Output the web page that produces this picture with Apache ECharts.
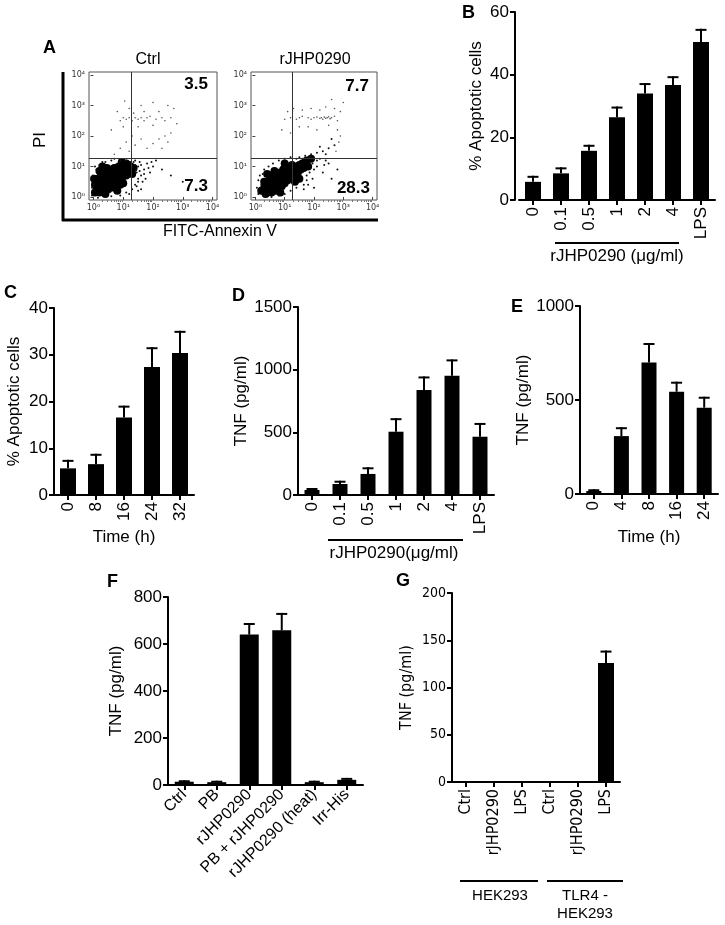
<!DOCTYPE html>
<html><head><meta charset="utf-8">
<script src="https://cdn.jsdelivr.net/npm/echarts/dist/echarts.min.js"></script>
<style>html,body{margin:0;padding:0;background:#fff}#c{width:725px;height:925px}</style>
</head><body><div id="c"></div>
<script>
const FONT = '"Liberation Sans", Arial, Helvetica, sans-serif';
const NARROW = '"Liberation Sans Narrow", "DejaVu Sans Condensed", "Liberation Sans", Arial, sans-serif';

// ---------- Panel A (flow cytometry, log10 units) ----------
const logTicks = [0, 1, 2, 3, 4];
const logLabels = ['10⁰', '10¹', '10²', '10³', '10⁴'];
const gateX = 1.27, gateY = 1.28;
const ctrlQuad = ['3.5', '7.3'];
const rjQuad = ['7.7', '28.3'];
const ctrlDense = [[0.3,0.4],[0.4,0.5],[0.5,0.6],[0.6,0.7],[0.7,0.8],[0.35,0.6],[0.45,0.3],[0.55,0.45],[0.65,0.55],[0.75,0.65],[0.85,0.75],[0.9,0.9],[0.2,0.3],[0.25,0.5],[0.15,0.35],[0.3,0.2],[0.5,0.25],[0.6,0.35],[0.8,0.5],[0.95,0.6],[1.0,0.8],[0.7,0.95],[0.5,0.8],[0.4,0.7],[0.2,0.15],[0.1,0.2],[1.05,0.95],[0.85,1.0],[0.6,0.9],[0.35,0.85],[0.1,0.5],[0.25,0.7],[0.45,0.95],[1.1,0.7],[0.9,0.4],[0.4,0.1],[0.15,0.6],[0.7,0.3],[1.15,1.05],[1.2,0.9],[1.25,1.0],[1.3,0.75],[1.1,1.1],[0.95,1.15],[1.35,0.95],[0.05,0.15],[0.05,0.4],[0.02,0.6],[0.3,1.0],[0.2,0.85],[1.0,0.45],[0.8,0.2]];
const ctrlSparse = [[-0.05,0.05],[0.0,0.4],[-0.02,0.7],[0.1,0.9],[0.2,1.05],[0.4,1.15],[0.6,1.2],[0.9,1.2],[1.1,1.2],[1.25,1.15],[1.4,1.05],[1.45,0.8],[1.5,0.6],[1.4,0.4],[1.3,0.25],[1.1,0.15],[0.9,0.05],[0.6,0.02],[0.4,0.0],[0.15,-0.03],[1.5,1.0],[1.55,0.85],[1.6,0.7],[1.6,1.05],[1.7,0.9],[1.8,1.1],[1.65,0.5],[1.9,0.8],[2.0,1.0],[1.45,0.35],[1.6,0.25],[1.75,0.6],[1.4,1.2],[1.55,1.15],[2.1,1.2],[2.3,0.9],[2.6,0.7],[3.0,0.5],[1.35,1.15],[1.5,0.5],[1.42,0.9],[1.7,0.75],[0.05,1.0],[-0.05,0.3],[1.2,0.1],[1.85,0.95],[1.95,1.15],[1.5,0.2],[0.7,1.25],[0.3,1.15]];
const ctrlUpper = [[0.7,1.4],[0.9,1.6],[1.1,1.8],[1.2,1.5],[1.4,1.7],[1.3,2.0],[1.6,1.9],[1.8,1.6],[2.0,1.75],[2.2,1.9],[2.4,2.0],[2.5,1.8],[2.6,2.1],[2.3,1.6],[0.9,2.5],[1.0,2.6],[1.1,2.55],[1.2,2.6],[1.3,2.5],[1.4,2.6],[1.5,2.55],[1.6,2.6],[1.7,2.5],[1.8,2.6],[1.9,2.65],[2.1,2.55],[2.3,2.6],[2.4,2.5],[2.6,2.6],[2.7,2.9],[2.5,3.0],[2.0,3.1],[1.6,3.0],[1.2,2.9],[0.8,2.8],[1.0,2.3],[1.5,2.3],[2.0,2.35],[2.8,2.4],[0.6,2.2],[1.7,2.8],[2.2,2.8],[1.35,2.75],[1.05,3.15]];
const rjDense = [[0.4,0.2],[0.5,0.35],[0.6,0.3],[0.7,0.45],[0.8,0.5],[0.9,0.6],[1.0,0.7],[1.1,0.75],[1.2,0.85],[1.3,0.9],[1.4,1.0],[0.6,0.55],[0.75,0.7],[0.85,0.8],[0.95,0.9],[1.05,0.95],[1.15,1.0],[0.9,0.35],[1.0,0.45],[1.1,0.55],[1.2,0.6],[1.3,0.7],[1.45,0.8],[0.55,0.15],[0.7,0.2],[0.8,0.3],[1.25,1.05],[1.5,1.05],[1.55,0.9],[0.45,0.5],[0.65,0.85],[1.35,0.5],[0.3,0.3],[1.6,1.1],[0.85,0.15],[0.5,0.7],[1.0,1.1],[1.7,1.15],[1.8,1.0],[1.65,0.95],[1.75,1.2],[0.3,0.5],[0.2,0.2],[0.35,0.1],[1.9,1.25],[1.5,0.6],[0.4,0.75]];
const rjSparse = [[0.1,0.1],[0.2,0.4],[0.15,0.7],[0.3,0.9],[0.45,1.0],[0.6,1.1],[0.8,1.2],[1.0,1.25],[1.2,1.3],[1.4,1.25],[1.6,1.25],[1.85,0.8],[1.75,0.7],[1.75,0.55],[1.65,0.4],[1.4,0.3],[1.2,0.2],[1.0,0.1],[0.8,0.05],[0.55,0.0],[0.3,0.02],[1.95,1.1],[2.0,0.9],[2.1,1.2],[2.1,1.0],[2.2,1.25],[1.95,0.6],[2.3,0.8],[2.5,1.1],[1.8,0.4],[2.0,0.3],[2.6,0.6],[2.8,0.9],[3.0,0.4],[1.5,1.3],[1.7,1.35],[1.9,1.4],[2.1,1.45],[2.3,1.5],[2.5,1.6],[2.4,1.4],[2.7,1.7],[2.6,1.9],[2.2,1.65],[0.05,0.3],[1.85,1.3],[1.65,0.25],[2.35,1.05],[0.1,0.55],[0.25,0.75],[2.4,1.2]];
const rjUpper = [[1.0,2.55],[1.2,2.6],[1.4,2.55],[1.5,2.6],[1.6,2.65],[1.8,2.6],[1.9,2.55],[2.0,2.6],[2.1,2.62],[2.2,2.58],[2.25,2.6],[2.3,2.55],[2.35,2.62],[2.4,2.58],[2.45,2.6],[2.5,2.63],[2.55,2.57],[2.6,2.6],[2.7,2.65],[2.8,2.5],[1.1,2.8],[1.3,2.9],[1.6,2.85],[1.9,2.9],[2.2,2.85],[2.4,2.95],[2.7,2.9],[2.9,2.8],[3.0,3.1],[2.6,3.2],[1.5,2.3],[1.8,2.3],[2.1,2.2],[2.5,2.35],[2.8,2.2],[2.9,2.0],[0.9,2.2],[1.2,2.1],[2.75,1.5],[2.85,1.8]];

// ---------- Panel B ----------
const bCats = ['0', '0.1', '0.5', '1', '2', '4', 'LPS'];
const bVals = [5.8, 8.5, 15.7, 26.4, 34.0, 36.7, 50.4];
const bErrs = [1.6, 1.6, 1.6, 3.1, 3.0, 2.5, 3.9];
const bTicks = [0, 20, 40, 60];
// ---------- Panel C ----------
const cCats = ['0', '8', '16', '24', '32'];
const cVals = [5.7, 6.6, 16.6, 27.4, 30.4];
const cErrs = [1.6, 2.0, 2.3, 4.0, 4.5];
const cTicks = [0, 10, 20, 30, 40];
// ---------- Panel D ----------
const dCats = ['0', '0.1', '0.5', '1', '2', '4', 'LPS'];
const dVals = [40, 88, 168, 505, 838, 952, 465];
const dErrs = [8, 18, 45, 100, 100, 122, 102];
const dTicks = [0, 500, 1000, 1500];
// ---------- Panel E ----------
const eCats = ['0', '4', '8', '16', '24'];
const eVals = [16, 308, 700, 544, 459];
const eErrs = [4, 42, 98, 48, 53];
const eTicks = [0, 500, 1000];
// ---------- Panel F ----------
const fCats = ['Ctrl', 'PB', 'rJHP0290', 'PB + rJHP0290', 'rJHP0290 (heat)', 'Irr-His'];
const fVals = [14, 12, 640, 658, 12, 22];
const fErrs = [2, 2, 45, 70, 2, 4];
const fTicks = [0, 200, 400, 600, 800];
// ---------- Panel G ----------
const gCats = ['Ctrl', 'rJHP0290', 'LPS', 'Ctrl', 'rJHP0290', 'LPS'];
const gVals = [0, 0, 0, 0, 0, 126];
const gErrs = [0, 0, 0, 0, 0, 12];
const gTicks = [0, 50, 100, 150, 200];

const grids = [], xAxes = [], yAxes = [], series = [];

function txt(o) { return Object.assign({ color: '#000', fontFamily: FONT }, o); }

const minorLog = [];
for (let k = 0; k < 4; k++) for (let m = 2; m < 10; m++) minorLog.push(k + Math.log10(m));

function flowPanel(rect, dense, sparse, upper) {
  const gi = grids.length;
  grids.push(Object.assign({ show: true, borderColor: '#555', borderWidth: 1, backgroundColor: 'transparent' }, rect));
  const xi = xAxes.length;
  const lab = { show: true, customValues: logTicks, formatter: v => logLabels[Math.round(v)], margin: 4, fontSize: 8, color: '#333', fontFamily: '"DejaVu Sans", sans-serif' };
  xAxes.push({ gridIndex: gi, type: 'value', min: -0.15, max: 4.15,
    axisLine: { show: false }, splitLine: { show: false },
    axisTick: { show: true, inside: false, length: 3, customValues: logTicks, lineStyle: { color: '#444', width: 1 } },
    axisLabel: lab });
  xAxes.push({ gridIndex: gi, type: 'value', min: -0.15, max: 4.15, position: 'bottom',
    axisLine: { show: false }, splitLine: { show: false }, axisLabel: { show: false },
    axisTick: { show: true, length: 2, customValues: minorLog, lineStyle: { color: '#777', width: 1 } } });
  const yi = yAxes.length;
  yAxes.push({ gridIndex: gi, type: 'value', min: -0.1, max: 4.1,
    axisLine: { show: false }, splitLine: { show: false },
    axisTick: { show: true, length: 3, customValues: logTicks, lineStyle: { color: '#444', width: 1 } },
    axisLabel: lab });
  series.push({ type: 'scatter', xAxisIndex: xi, yAxisIndex: yi, data: dense, symbolSize: 8, itemStyle: { color: '#000', opacity: 1 }, silent: true,
    markLine: { silent: true, symbol: ['none', 'none'], label: { show: false }, lineStyle: { color: '#333', width: 1, type: 'solid' },
      data: [{ xAxis: gateX }, { yAxis: gateY }] } });
  series.push({ type: 'scatter', xAxisIndex: xi, yAxisIndex: yi, data: sparse, symbolSize: 2, itemStyle: { color: '#111', opacity: 1 }, silent: true });
  series.push({ type: 'scatter', xAxisIndex: xi, yAxisIndex: yi, data: upper, symbolSize: 1.6, itemStyle: { color: '#555', opacity: 1 }, silent: true });
}

function errRender(capW) {
  return function (params, api) {
    const x = api.value(0), v = api.value(1), e = api.value(2);
    if (!e) return;
    const base = api.coord([x, v]);
    const top = api.coord([x, v + e]);
    const st = { stroke: '#000', lineWidth: 2 };
    return { type: 'group', children: [
      { type: 'line', shape: { x1: base[0], y1: base[1], x2: top[0], y2: top[1] - 1 }, style: st },
      { type: 'line', shape: { x1: top[0] - capW / 2, y1: top[1], x2: top[0] + capW / 2, y2: top[1] }, style: st }
    ] };
  };
}

function barPanel(rect, cats, vals, errs, ticks, o) {
  const gi = grids.length;
  grids.push(Object.assign({ show: false }, rect));
  const xi = xAxes.length, yi = yAxes.length;
  const fam = o.font || FONT;
  xAxes.push({ gridIndex: gi, type: 'category', data: cats,
    axisLine: { show: true, lineStyle: { color: '#000', width: 2 } },
    axisTick: { show: true, alignWithLabel: true, length: 5, lineStyle: { color: '#000', width: 2 } },
    axisLabel: { interval: 0, rotate: o.rot, margin: o.xMargin || 7, fontSize: o.xfs || 17, fontFamily: fam, color: '#000' },
    name: o.xName || '', nameLocation: 'middle', nameGap: o.xNameGap || 30,
    nameTextStyle: txt({ fontSize: 17 }) });
  yAxes.push({ gridIndex: gi, type: 'value', min: ticks[0], max: ticks[ticks.length - 1], interval: ticks[1] - ticks[0],
    offset: o.yOffset || 0,
    axisLine: { show: true, lineStyle: { color: '#000', width: 2 } },
    axisTick: { show: true, length: 5, lineStyle: { color: '#000', width: 2 } },
    axisLabel: { margin: 6, fontSize: o.yfs || 17, fontFamily: fam, color: '#000', formatter: v => String(v) },
    splitLine: { show: false },
    name: o.yName, nameLocation: 'middle', nameGap: o.yNameGap,
    nameTextStyle: txt({ fontSize: o.nfs || 17, fontFamily: fam }) });
  series.push({ type: 'bar', xAxisIndex: xi, yAxisIndex: yi, data: vals, barWidth: o.bw, itemStyle: { color: '#000' }, silent: true });
  series.push({ type: 'custom', xAxisIndex: xi, yAxisIndex: yi, renderItem: errRender(o.cap || 11),
    encode: { x: 0, y: 1 }, data: cats.map((c, i) => [i, vals[i], errs[i]]), silent: true, z: 3 });
}

flowPanel({ left: 89, top: 72, width: 128, height: 128 }, ctrlDense, ctrlSparse, ctrlUpper);
flowPanel({ left: 251, top: 72, width: 126, height: 128 }, rjDense, rjSparse, rjUpper);
barPanel({ left: 519, top: 12, width: 196, height: 188 }, bCats, bVals, bErrs, bTicks,
  { rot: 90, bw: 16, yOffset: 4, yName: '% Apoptotic cells', yNameGap: 30 });
barPanel({ left: 54, top: 308, width: 140, height: 187 }, cCats, cVals, cErrs, cTicks,
  { rot: 90, bw: 16, yName: '% Apoptotic cells', yNameGap: 31, xName: 'Time (h)', xNameGap: 34 });
barPanel({ left: 298, top: 307, width: 196, height: 188 }, dCats, dVals, dErrs, dTicks,
  { rot: 90, bw: 15, yName: 'TNF (pg/ml)', yNameGap: 48 });
barPanel({ left: 580, top: 306, width: 138, height: 188 }, eCats, eVals, eErrs, eTicks,
  { rot: 90, bw: 15, yName: 'TNF (pg/ml)', yNameGap: 42, xName: 'Time (h)', xNameGap: 35 });
barPanel({ left: 168, top: 597, width: 195, height: 188 }, fCats, fVals, fErrs, fTicks,
  { rot: 45, bw: 19, xfs: 16, yName: 'TNF (pg/ml)', yNameGap: 43 });
barPanel({ left: 452, top: 593, width: 168, height: 189 }, gCats, gVals, gErrs, gTicks,
  { rot: 90, bw: 16, xfs: 16, yfs: 14, nfs: 16, font: NARROW, yName: 'TNF (pg/ml)', yNameGap: 37 });

const L = (x1, y1, x2, y2, w) => ({ type: 'line', shape: { x1, y1, x2, y2 }, style: { stroke: '#000', lineWidth: w || 2 }, silent: true });
const T = (text, x, y, o) => ({ type: 'text', x, y, rotation: (o && o.rot) || 0, silent: true,
  style: Object.assign({ text, fill: '#000', font: ((o && o.weight) || 'normal') + ' ' + ((o && o.size) || 16) + 'px ' + FONT,
    textAlign: (o && o.align) || 'center', textVerticalAlign: 'middle' }) });

const graphics = [
  T('A', 43, 48, { weight: 'bold', size: 18, align: 'left' }),
  T('B', 462, 13, { weight: 'bold', size: 18, align: 'left' }),
  T('C', 4, 293, { weight: 'bold', size: 18, align: 'left' }),
  T('D', 232, 296, { weight: 'bold', size: 18, align: 'left' }),
  T('E', 511, 307, { weight: 'bold', size: 18, align: 'left' }),
  T('F', 107, 582, { weight: 'bold', size: 18, align: 'left' }),
  T('G', 396, 581, { weight: 'bold', size: 18, align: 'left' }),
  T('Ctrl', 148, 60, { size: 16 }),
  T('rJHP0290', 315, 60, { size: 16 }),
  T(ctrlQuad[0], 208, 84, { weight: 'bold', size: 17, align: 'right' }),
  T(ctrlQuad[1], 208, 186, { weight: 'bold', size: 17, align: 'right' }),
  T(rjQuad[0], 369, 86, { weight: 'bold', size: 17, align: 'right' }),
  T(rjQuad[1], 370, 188, { weight: 'bold', size: 17, align: 'right' }),
  T('PI', 40, 140, { size: 17, rot: Math.PI / 2 }),
  T('FITC-Annexin V', 220, 232, { size: 16 }),
  L(63, 72, 63, 221, 3),
  L(62, 220, 378, 220, 3),
  L(555, 243, 679, 243, 2),
  T('rJHP0290 (μg/ml)', 617, 256, { size: 17 }),
  L(328, 540, 463, 540, 2),
  T('rJHP0290(μg/ml)', 394, 553, { size: 17 }),
  L(460, 881, 538, 881, 2),
  L(547, 881, 623, 881, 2),
  T('HEK293', 500, 896, { size: 15 }),
  T('TLR4 -', 585, 896, { size: 15 }),
  T('HEK293', 585, 914, { size: 15 })
];

const chart = echarts.init(document.getElementById('c'), null, { renderer: 'canvas', width: 725, height: 925 });
chart.setOption({
  animation: false,
  backgroundColor: '#fff',
  grid: grids,
  xAxis: xAxes,
  yAxis: yAxes,
  series: series,
  graphic: graphics
});
</script>
</body></html>
